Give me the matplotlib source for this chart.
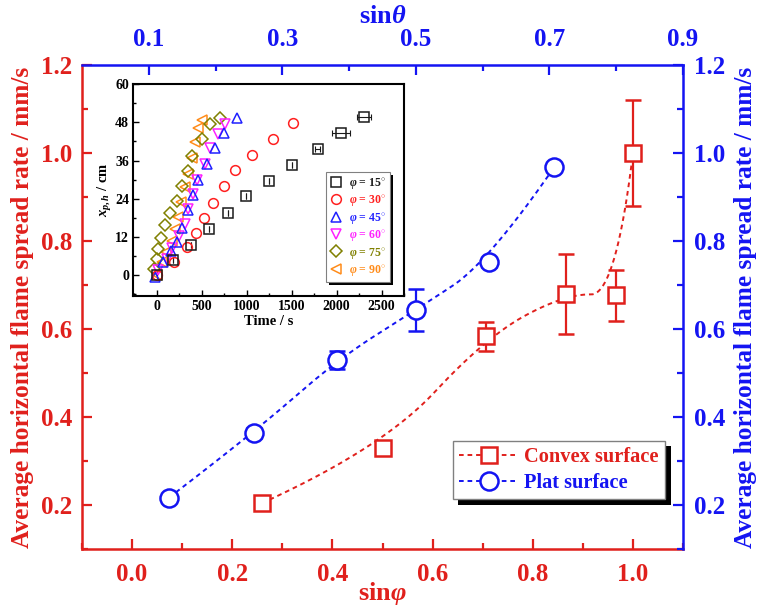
import numpy as np
import matplotlib
matplotlib.use('Agg')
import matplotlib.pyplot as plt
from matplotlib.ticker import MultipleLocator, FixedLocator, FormatStrFormatter
from matplotlib.lines import Line2D
import matplotlib.patheffects as pe

plt.rcParams['font.family'] = ['Liberation Serif', 'DejaVu Serif']
plt.rcParams['font.weight'] = 'bold'
plt.rcParams['mathtext.fontset'] = 'custom'
plt.rcParams['mathtext.rm'] = 'Liberation Serif:bold'
plt.rcParams['mathtext.it'] = 'Liberation Serif:italic:bold'
plt.rcParams['mathtext.bf'] = 'Liberation Serif:bold'

RED = '#e0201c'
BLUE = '#1414f2'

# ---- main data ----
convex_x = [0.259, 0.500, 0.707, 0.866, 0.966, 1.000]
convex_y = [0.204, 0.329, 0.583, 0.680, 0.677, 1.000]
convex_err = [0.0, 0.013, 0.034, 0.091, 0.058, 0.121]

plat_x = [0.074, 0.243, 0.409, 0.566, 0.712, 0.843]
plat_y = [0.217, 0.364, 0.530, 0.643, 0.752, 0.968]
plat_err = [0.008, 0.012, 0.021, 0.048, 0.010, 0.0]

legend_labels = ['Convex surface', 'Plat surface']
top_ticks = [0.1, 0.3, 0.5, 0.7, 0.9]

# ---- inset data (time s, position cm) ----
t15 = [0, 185, 381, 581, 796, 992, 1248, 1500, 1789, 2044, 2304]
x15 = [0, 4.7, 9.6, 14.5, 19.6, 24.9, 29.5, 34.5, 39.5, 44.5, 49.5]
t15_err = [0, 0, 0, 0, 0, 0, 0, 0, 30, 100, 75]
t30 = [0, 196, 333, 437, 529, 629, 751, 870, 1060, 1289, 1518]
x30 = [0, 4.2, 8.9, 13.4, 18.1, 22.8, 28.0, 33.0, 37.7, 42.6, 47.7]
t45 = [-15, 74, 160, 222, 285, 352, 407, 463, 556, 648, 748, 896]
x45 = [-0.5, 4.2, 7.5, 10.5, 14.7, 20.4, 25.1, 29.8, 34.8, 39.8, 44.5, 49.4]
t60 = [19, 111, 167, 252, 315, 352, 407, 452, 537, 593, 685, 759]
x60 = [1.6, 5.2, 8.4, 12.3, 16.2, 20.7, 25.4, 29.8, 34.8, 39.8, 44.2, 47.6]
t75 = [-26, 0, 19, 44, 93, 148, 229, 285, 352, 389, 507, 593, 704]
x75 = [2.1, 5.2, 8.2, 11.7, 15.7, 19.4, 23.2, 28.1, 32.8, 37.5, 42.6, 47.3, 49.4]
t90 = [0, 56, 100, 167, 204, 233, 270, 315, 352, 389, 426, 463, 500]
x90 = [0, 4.2, 7.3, 10.7, 14.5, 18.3, 23.0, 27.7, 31.9, 36.8, 41.9, 46.1, 48.7]
angles = [15, 30, 45, 60, 75, 90]


def bspline(xs, ys, k=2, n=400):
    """Clamped uniform B-spline using the data points as control points."""
    P = np.column_stack([xs, ys])
    m = len(P)
    k = min(k, m - 1)
    inner = np.linspace(0, 1, m - k + 1)[1:-1]
    t = np.concatenate([np.zeros(k + 1), inner, np.ones(k + 1)])
    u = np.linspace(0, 1, n)
    u[-1] = 1 - 1e-12
    N = np.zeros((n, len(t) - 1))
    for i in range(len(t) - 1):
        N[:, i] = np.where((t[i] <= u) & (u < t[i + 1]), 1.0, 0.0)
    for d in range(1, k + 1):
        Nn = np.zeros((n, len(t) - 1 - d))
        for i in range(len(t) - 1 - d):
            term = np.zeros(n)
            den1 = t[i + d] - t[i]
            den2 = t[i + d + 1] - t[i + 1]
            if den1 > 0:
                term += (u - t[i]) / den1 * N[:, i]
            if den2 > 0:
                term += (t[i + d + 1] - u) / den2 * N[:, i + 1]
            Nn[:, i] = term
        N = Nn
    C = N @ P
    return C[:, 0], C[:, 1]


def style_ticks(a, color, major=7, minor=4):
    a.tick_params(which='both', direction='in', colors=color, width=1.6)
    a.tick_params(which='major', length=major)
    a.tick_params(which='minor', length=minor)


fig = plt.figure(figsize=(7.61, 6.10), dpi=100)
ax = fig.add_axes([82 / 761, 1 - 549 / 610, 601 / 761, 484 / 610])
ax.set_xlim(-0.1, 1.1)
ax.set_ylim(0.1, 1.2)

dash = (0, (2.4, 2.0))
cx, cy = bspline(convex_x, convex_y)
px, py = bspline(plat_x, plat_y)
ax.plot(cx, cy, color=RED, ls=dash, lw=1.4, zorder=2)
ax.plot(px, py, color=BLUE, ls=dash, lw=1.4, zorder=2)

ax.errorbar(convex_x, convex_y, yerr=convex_err, fmt='s', ms=12, mfc='white',
            mec=RED, mew=1.8, ecolor=RED, elinewidth=1.6, capsize=6,
            capthick=1.6, zorder=3)
ax.errorbar(plat_x, plat_y, yerr=plat_err, fmt='o', ms=13, mfc='white',
            mec=BLUE, mew=1.8, ecolor=BLUE, elinewidth=1.6, capsize=6,
            capthick=1.6, zorder=3)

# axes styling (left / bottom in red)
for sp in ['left', 'bottom']:
    ax.spines[sp].set_color(RED)
    ax.spines[sp].set_linewidth(1.8)
for sp in ['top', 'right']:
    ax.spines[sp].set_visible(False)
ax.xaxis.set_major_locator(MultipleLocator(0.2))
ax.xaxis.set_minor_locator(MultipleLocator(0.1))
ax.yaxis.set_major_locator(MultipleLocator(0.2))
ax.yaxis.set_minor_locator(MultipleLocator(0.1))
style_ticks(ax, RED)
ax.tick_params(axis='x', labelsize=18, pad=10)
ax.tick_params(axis='y', labelsize=18, pad=7)
ax.xaxis.set_major_formatter(FormatStrFormatter('%.1f'))
ax.yaxis.set_major_formatter(FormatStrFormatter('%.1f'))
ax.set_xlabel(r'sin$\varphi$', color=RED, fontsize=19, fontweight='bold', labelpad=-4)
ax.set_ylabel('Average horizontal flame spread rate / mm/s', color=RED,
              fontsize=18.3, fontweight='bold', labelpad=5)

# right axis (blue)
axr = ax.twinx()
axr.set_ylim(0.1, 1.2)
for sp in ['left', 'bottom', 'top']:
    axr.spines[sp].set_visible(False)
axr.spines['right'].set_color(BLUE)
axr.spines['right'].set_linewidth(1.8)
axr.yaxis.set_major_locator(MultipleLocator(0.2))
axr.yaxis.set_minor_locator(MultipleLocator(0.1))
axr.yaxis.set_major_formatter(FormatStrFormatter('%.1f'))
style_ticks(axr, BLUE)
axr.tick_params(labelsize=18, pad=8)
axr.set_ylabel('Average horizontal flame spread rate / mm/s', color=BLUE,
               fontsize=18.3, fontweight='bold', rotation=90, labelpad=6)

# top axis (blue)
axt = ax.twiny()
axt.set_xlim(0.0, 0.9)
for sp in ['left', 'bottom', 'right']:
    axt.spines[sp].set_visible(False)
axt.spines['top'].set_color(BLUE)
axt.spines['top'].set_linewidth(1.8)
axt.xaxis.set_major_locator(FixedLocator(top_ticks))
axt.xaxis.set_minor_locator(FixedLocator([0.2, 0.4, 0.6, 0.8]))
axt.xaxis.set_major_formatter(FormatStrFormatter('%.1f'))
style_ticks(axt, BLUE)
axt.tick_params(labelsize=18, pad=10)
axt.set_xlabel(r'sin$\theta$', color=BLUE, fontsize=19, fontweight='bold', labelpad=4)

# main legend
handles = [
    Line2D([], [], color=RED, ls=dash, lw=1.4, marker='s', ms=12, mfc='white', mec=RED, mew=1.8),
    Line2D([], [], color=BLUE, ls=dash, lw=1.4, marker='o', ms=13, mfc='white', mec=BLUE, mew=1.8),
]
leg = axt.legend(handles, legend_labels, loc='lower right',
                 bbox_to_anchor=(0.970, 0.103), bbox_transform=ax.transAxes,
                 borderaxespad=0, fontsize=14.7, frameon=True, fancybox=False,
                 framealpha=1.0, handlelength=2.9, handletextpad=0.3,
                 borderpad=0.3, labelspacing=0.3, numpoints=1)
leg.get_frame().set_edgecolor('#808080')
leg.get_frame().set_linewidth(1.0)
leg.get_frame().set_path_effects([pe.SimplePatchShadow(offset=(4, -4), shadow_rgbFace='k', alpha=1.0), pe.Normal()])
for txt, c in zip(leg.get_texts(), [RED, BLUE]):
    txt.set_color(c)
    txt.set_fontweight('bold')

# ---- inset ----
axin = fig.add_axes([133.3 / 761, 1 - 296 / 610, 270.7 / 761, 212 / 610])
axin.set_zorder(10)
axin.set_facecolor('white')
axin.set_xlim(-260, 2750)
axin.set_ylim(-6.5, 60)

series = [
    (t15, x15, 's', '#1a1a1a'),
    (t30, x30, 'o', '#ff2020'),
    (t45, x45, '^', '#2020ff'),
    (t60, x60, 'v', '#ff20ff'),
    (t75, x75, 'D', '#808000'),
    (t90, x90, '<', '#ff8c1a'),
]
hs = []
for i, (tt, xx, mk, col) in enumerate(series):
    ms = 7 if mk != 'D' else 6
    h, = axin.plot(tt, xx, ls='none', marker=mk, ms=ms, mfc='none', mec=col,
                   mew=1.1, zorder=3 + (5 - i))
    hs.append(h)
axin.errorbar(t15, x15, xerr=t15_err, fmt='none', ecolor='#1a1a1a',
              elinewidth=0.8, capsize=2, capthick=0.8, zorder=3)

for sp in axin.spines.values():
    sp.set_linewidth(1.5)
    sp.set_color('k')
axin.xaxis.set_major_locator(MultipleLocator(500))
axin.xaxis.set_minor_locator(MultipleLocator(250))
axin.yaxis.set_major_locator(MultipleLocator(12))
axin.yaxis.set_minor_locator(MultipleLocator(6))
axin.tick_params(which='both', direction='in', labelsize=10, width=1.0,
                 top=False, right=False, pad=3)
axin.tick_params(which='major', length=4)
axin.tick_params(which='minor', length=2)
axin.set_xlabel('Time / s', fontsize=10.5, fontweight='bold', labelpad=1)
axin.set_ylabel(r'$x_{p,h}$ / cm', fontsize=10.5, fontweight='bold', labelpad=1)

labels = [r'$\varphi$ = %d$^{\circ}$' % a for a in angles]
lg = axin.legend(hs, labels, loc='lower right', bbox_to_anchor=(0.948, 0.066),
                 borderaxespad=0, fontsize=8.5, frameon=True, fancybox=False,
                 framealpha=1.0, handlelength=1.0, handletextpad=0.6,
                 borderpad=0.35, labelspacing=0.2)
lg.get_frame().set_edgecolor('#808080')
lg.get_frame().set_linewidth(0.8)
lg.get_frame().set_path_effects([pe.SimplePatchShadow(offset=(2.5, -2.5), shadow_rgbFace='k', alpha=1.0), pe.Normal()])
for txt, s in zip(lg.get_texts(), series):
    txt.set_color(s[3])
    txt.set_fontweight('bold')

fig.savefig('out.png', dpi=100)
